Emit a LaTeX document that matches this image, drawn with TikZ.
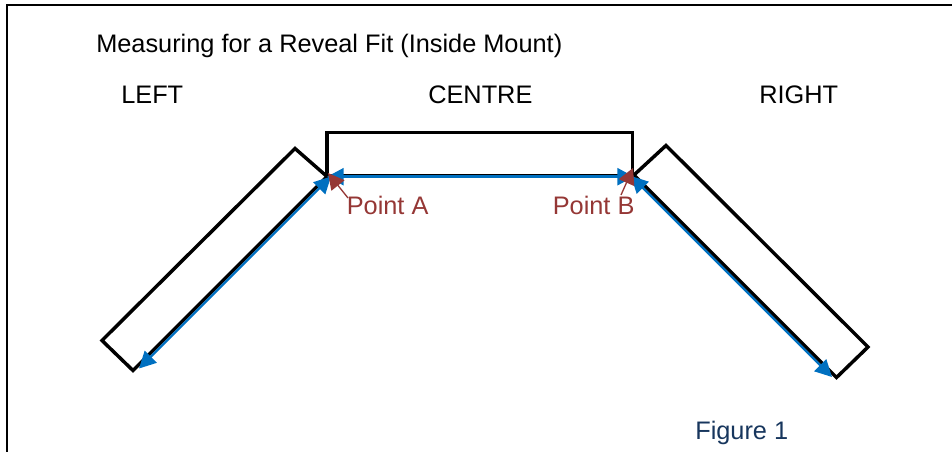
\documentclass[tikz,border=0pt]{standalone}
\usepackage{fontspec}
\setmainfont{Liberation Sans}
\usetikzlibrary{arrows.meta}
\definecolor{bluearrow}{HTML}{0070C0}
\definecolor{redlabel}{HTML}{953735}
\definecolor{navylabel}{HTML}{17365D}
\tikzset{
  x=0.75pt,y=-0.75pt,
  outline/.style={draw=black,line width=2.6pt,line join=miter},
  frameline/.style={draw=black,line width=1.5pt},
  measure/.style={draw=bluearrow,line width=1.65pt,{Triangle[length=12.5pt,width=12.5pt]}-{Triangle[length=12.5pt,width=12.5pt]}},
  pointer/.style={draw=redlabel,line width=1pt,-{Triangle[length=12pt,width=12.5pt]}},
  txt/.style={inner sep=0pt,font=\fontsize{19pt}{22pt}\selectfont,anchor=base west},
  redtxt/.style={txt,text=redlabel},
}
\begin{document}
\begin{tikzpicture}
\useasboundingbox (0,0) rectangle (952,452);
\draw[frameline] (7,452) -- (7,5) -- (952,5);
\node[txt] (title) at (96,53) {Measuring for a Reveal Fit (Inside Mount)};
\node[txt] (left) at (121,104) {LEFT};
\node[txt] (centre) at (428,104) {CENTRE};
\node[txt] (right) at (759,104) {RIGHT};
\node[redtxt] (pa) at (346.5,215) {Point A};
\node[redtxt] (pb) at (552.5,215) {Point B};
\node[txt,text=navylabel] (fig) at (695,439) {Figure 1};
\draw[outline] (327,175.5) -- (327,132.5) -- (632.5,132.5) -- (632.5,175.5) -- cycle;
\draw[outline] (327,176.5) -- (295,148.5) -- (102,340.5) -- (133,370.5) -- cycle;
\draw[outline] (634,175) -- (666,145.5) -- (868,347) -- (836.5,377.5) -- cycle;
\coordinate (a1) at (331,176.5);
\coordinate (a2) at (139,368.5);
\coordinate (b1) at (631,176);
\coordinate (b2) at (832,377);
\coordinate (h1) at (327,176.7);
\coordinate (h2) at (634,176.7);
\coordinate (pa1) at (348,198);
\coordinate (pat) at (328,173);
\coordinate (pb1) at (621,195);
\coordinate (pbt) at (633,168);
\draw[measure] (a1) -- (a2);
\draw[measure] (b1) -- (b2);
\draw[measure,line width=2.6pt] (h1) -- (h2);
\draw[pointer] (pa1) -- (pat);
\draw[pointer] (pb1) -- (pbt);
\end{tikzpicture}
\end{document}
